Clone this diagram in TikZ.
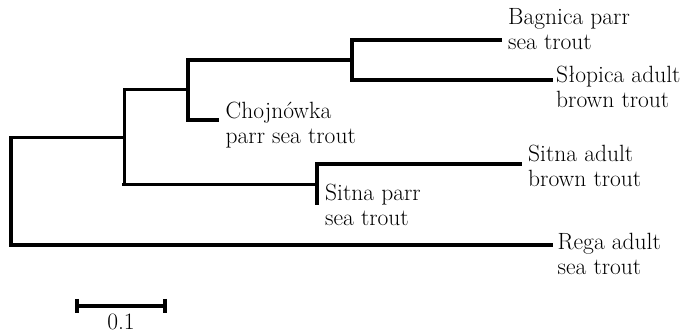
\documentclass[tikz,border=0pt]{standalone}
\usepackage{fontspec}
\begin{document}
\begin{tikzpicture}[x=1pt,y=-1pt,
  line cap=rect, line join=miter,
  thk/.style={line width=3.3pt},
  thn/.style={line width=3.0pt},
  lbl/.style={anchor=base west, inner sep=0pt, font=\fontsize{23.5}{24.5}\selectfont},
]
\useasboundingbox (0,0) rectangle (689,336);
% internal nodes
\coordinate (R) at (11,191.5);
\coordinate (A) at (124,138);
\coordinate (B) at (188,90);
\coordinate (D) at (352,60);
\coordinate (C) at (317,184.5);
% leaf tips
\coordinate (bag) at (500.5,40);
\coordinate (slo) at (551.5,80);
\coordinate (cho) at (217.5,120);
\coordinate (sad) at (520.5,164);
\coordinate (spa) at (317,203.5);
\coordinate (rega) at (551.5,245);
% branches
\draw[thn] (A) -- (A -| R);
\draw[thk] (A -| R) -- (rega -| R) -- (rega);
\draw[thn] (B) -- (B -| A) -- (C -| A);
\draw[thk] (C -| A) -- (C);
\draw[thk] (D) -- (D -| B) -- (cho -| B) -- (cho);
\draw[thk] (bag) -- (bag -| D) -- (slo -| D) -- (slo);
\draw[thk] (sad) -- (sad -| C) -- (spa -| C) -- (spa);
% labels
\node[lbl] (lbag) at (508,25) {\begin{tabular}[t]{@{}l@{}}Bagnica parr\\sea trout\end{tabular}};
\node[lbl] (lslo) at (556,83) {\begin{tabular}[t]{@{}l@{}}Słopica adult\\brown trout\end{tabular}};
\node[lbl] (lcho) at (225.5,119) {\begin{tabular}[t]{@{}l@{}}Chojnówka\\parr sea trout\end{tabular}};
\node[lbl] (lsad) at (528,162) {\begin{tabular}[t]{@{}l@{}}Sitna adult\\brown trout\end{tabular}};
\node[lbl] (lspa) at (325,201) {\begin{tabular}[t]{@{}l@{}}Sitna parr\\sea trout\end{tabular}};
\node[lbl] (lrega) at (557.5,250) {\begin{tabular}[t]{@{}l@{}}Rega adult\\sea trout\end{tabular}};
% scale bar
\coordinate (s1) at (77,306);
\coordinate (s2) at (165,306);
\draw[thk, line cap=butt] (s1) -- (s2);
\draw[thk, line cap=butt] (s1) ++(0,-7) -- ++(0,14);
\draw[thk, line cap=butt] (s2) ++(0,-7) -- ++(0,14);
\node[anchor=base, inner sep=0pt, font=\fontsize{23.5}{24.5}\selectfont] (sl) at (121,330) {0.1};
\end{tikzpicture}
\end{document}
